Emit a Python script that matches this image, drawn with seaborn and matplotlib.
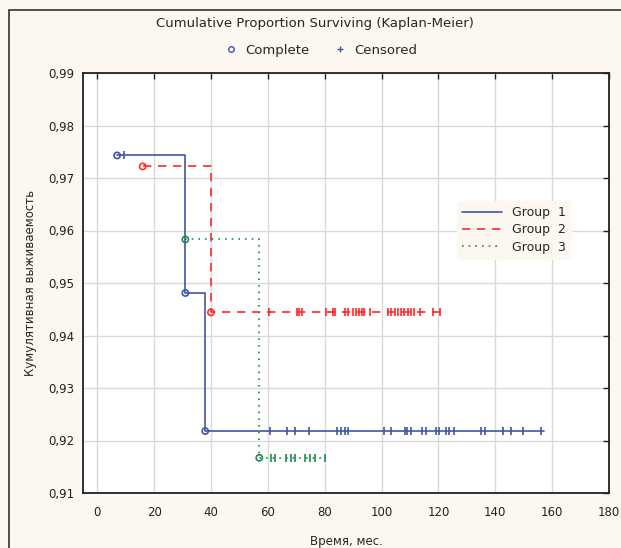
import matplotlib
matplotlib.use("Agg")
import matplotlib.pyplot as plt
import seaborn as sns
import pandas as pd
from matplotlib.lines import Line2D
from matplotlib.patches import Rectangle

# ---- data ----
groups = ["Group  1", "Group  2", "Group  3"]
g1_event_t = [7, 31, 38]
g1_event_s = [0.9743, 0.9481, 0.9218]
g1_end = 157
g1_cens = [9.5, 60.7, 66.8, 69.5, 74.5, 84.5, 85.7, 87.0, 88.2, 100.9, 103.3,
           108.2, 109.1, 110.2, 114.3, 115.6, 119.3, 120.1, 122.5, 123.7, 125.5,
           135.1, 136.5, 142.7, 145.5, 149.9, 156.1]

g2_event_t = [16, 40]
g2_event_s = [0.9722, 0.9444]
g2_end = 120.5
g2_cens = [60.5, 70.2, 71.1, 71.9, 80.5, 82.8, 83.7, 87.0, 88.2, 89.8, 91.0, 92.2,
           93.3, 94.0, 95.9, 102.2, 103.4, 104.6, 105.7, 106.9, 108.0, 109.2,
           110.4, 111.5, 113.7, 118.1, 120.5]

g3_event_t = [31, 57]
g3_event_s = [0.9583, 0.9167]
g3_end = 80
g3_cens = [61.0, 62.5, 66.5, 68.0, 69.5, 73.0, 75.0, 76.5, 80.0]

xticks = [0, 20, 40, 60, 80, 100, 120, 140, 160, 180]
yticks = [0.91, 0.92, 0.93, 0.94, 0.95, 0.96, 0.97, 0.98, 0.99]
ytick_labels = ["0,91", "0,92", "0,93", "0,94", "0,95", "0,96", "0,97", "0,98", "0,99"]

title = "Cumulative Proportion Surviving (Kaplan-Meier)"
xlabel = "Время, мес."
ylabel = "Кумулятивная выживаемость"

colors = ["#3f56a6", "#ff2a2a", "#1f8a4c"]
styles = ["-", (0, (5, 4)), (0, (1, 3))]

# ---- figure ----
sns.set_style("white")
plt.rcParams['font.family'] = ['DejaVu Sans']
bg = "#fcf8f1"
fig = plt.figure(figsize=(6.21, 5.48), dpi=100, facecolor=bg)
ax = fig.add_axes([83/621, 1 - 493/548, (609-83)/621, (493-73)/548])
ax.set_facecolor("white")

# outer border
fig.patches.append(Rectangle((9/621, -0.1), 1.2, 1 - 10/548 + 0.1,
                             transform=fig.transFigure, fill=False,
                             edgecolor="#333333", linewidth=1.2))

def level_at(t, ev_t, ev_s):
    s = None
    for et, es in zip(ev_t, ev_s):
        if t >= et:
            s = es
    return s if s is not None else ev_s[0]

all_data = [(g1_event_t, g1_event_s, g1_end, g1_cens),
            (g2_event_t, g2_event_s, g2_end, g2_cens),
            (g3_event_t, g3_event_s, g3_end, g3_cens)]

handles = []
for i, (et, es, end, cens) in enumerate(all_data):
    df = pd.DataFrame({"t": et + [end], "s": es + [es[-1]]})
    sns.lineplot(data=df, x="t", y="s", ax=ax, color=colors[i], linestyle=styles[i],
                 drawstyle="steps-post", linewidth=1.2, estimator=None, sort=False)
    dfe = pd.DataFrame({"t": et, "s": es})
    sns.scatterplot(data=dfe, x="t", y="s", ax=ax, marker="o", s=20,
                    facecolor="none", edgecolor=colors[i], linewidth=1.2, zorder=5)
    dfc = pd.DataFrame({"t": cens, "s": [level_at(c, et, es) for c in cens]})
    sns.scatterplot(data=dfc, x="t", y="s", ax=ax, marker="|", s=40,
                    color=colors[i], linewidth=1.2, zorder=5)
    handles.append(Line2D([], [], color=colors[i], linestyle=styles[i], linewidth=1.2))

ax.set_xlim(-5, 180)
ax.set_ylim(0.91, 0.99)
ax.set_xticks(xticks)
ax.set_xticklabels([str(x) for x in xticks])
ax.set_yticks(yticks)
ax.set_yticklabels(ytick_labels)
ax.grid(True, color="#d9d9d9", linewidth=1)
ax.set_axisbelow(True)
ax.tick_params(direction="in", length=4, width=1, top=True, right=True,
               labelsize=8.5, colors="#222222", pad=6)
ax.tick_params(axis="x", pad=9)
for sp in ax.spines.values():
    sp.set_visible(True)
    sp.set_color("#222222")
    sp.set_linewidth(1.3)
ax.set_xlabel(xlabel, fontsize=8.5, labelpad=12)
ax.set_ylabel(ylabel, fontsize=8.5, labelpad=8)

leg = ax.legend(handles, groups, loc="upper left", bbox_to_anchor=(0.70, 0.71),
                frameon=True, fontsize=9, handlelength=3.2, labelspacing=0.35,
                borderpad=0.4)
leg.get_frame().set_facecolor(bg)
leg.get_frame().set_edgecolor(bg)
leg.get_frame().set_alpha(1)

fig.text(315/621, 1 - 24/548, title, ha="center", va="center", fontsize=9.5)
top_handles = [Line2D([], [], marker="o", linestyle="none", markersize=4,
                      markerfacecolor="none", markeredgecolor=colors[0]),
               Line2D([], [], marker="+", linestyle="none", markersize=5,
                      color=colors[0])]
fig.legend(top_handles, ["Complete", "Censored"], loc="center",
           bbox_to_anchor=(321/621, 1 - 50/548), ncol=2, frameon=False,
           fontsize=9.5, handlelength=1, columnspacing=1.8, handletextpad=0.6)

fig.savefig("out.png", dpi=100, facecolor=bg)
